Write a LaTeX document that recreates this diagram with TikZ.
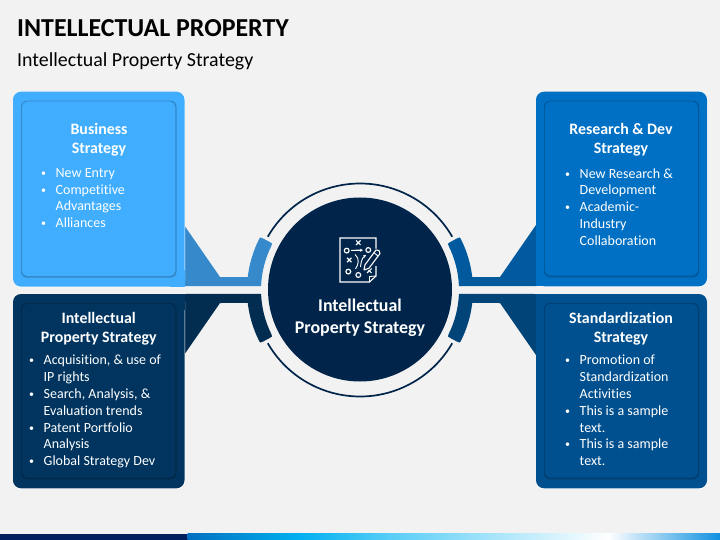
\documentclass[tikz,border=0pt]{standalone}
\usepackage{fontspec}
\usetikzlibrary{arrows.meta}
\setmainfont[Ligatures=NoCommon]{Carlito}
\definecolor{bgc}{HTML}{F2F2F2}
\definecolor{navy}{HTML}{01254A}
\definecolor{boxa}{HTML}{40ADFF}
\definecolor{boxb}{HTML}{01355F}
\definecolor{boxc}{HTML}{0070C4}
\definecolor{boxd}{HTML}{00508F}
\definecolor{cona}{HTML}{368ACB}
\definecolor{conb}{HTML}{022D50}
\definecolor{conc}{HTML}{015A9E}
\definecolor{cond}{HTML}{014478}
\definecolor{barnavy}{HTML}{001F5F}
\definecolor{bar0}{HTML}{0070C0}
\definecolor{bar1}{HTML}{00B0F0}
\definecolor{bar2}{HTML}{58CDF7}
\definecolor{bar3}{HTML}{FFFFFF}
\definecolor{bar4}{HTML}{0E90E0}
\pgfdeclarehorizontalshading{barshade}{100bp}{color(0bp)=(bar0); color(25bp)=(bar0); color(35.5bp)=(bar1); color(44bp)=(bar2); color(64.5bp)=(bar3); color(75bp)=(bar4); color(100bp)=(bar4)}
\tikzset{
  headtxt/.style={anchor=north,inner sep=0pt,align=center,text=white,font=\fontsize{15.9}{19.4}\selectfont\bfseries,execute at begin node=\strut},
  bodytxt/.style={anchor=north west,inner sep=0pt,align=left,text=white,font=\fontsize{14}{16.8}\selectfont,execute at begin node=\strut},
  iconline/.style={draw=white,line width=1.15pt,fill=none},
}
\newcommand{\itm}{\llap{\raisebox{1pt}{\fontsize{10}{10}\selectfont\textbullet}\hspace{9.5pt}}}
% inner x0,y0,x1,y1, colour, square corner point, opposite point of the patch
\newcommand{\panelbox}[7]{%
  \fill[white,rounded corners=8pt] ({#1-8},{#2-9+.6}) rectangle ({#3+8.7},{#4+9.7});
  \fill[#5,rounded corners=8pt] ({#1-8},{#2-9}) rectangle ({#3+8},{#4+9});
  \fill[#5] (#6) rectangle (#7);
  \fill[#5!78!black,rounded corners=6pt] (#1,#2) rectangle (#3,#4);
  \fill[#5,rounded corners=5.5pt] ({#1+.8},{#2+.8}) rectangle ({#3-1.2},{#4-1.6});
}
\newcommand{\connshape}[3]{%
  \begin{scope}[shift={(360,290)},x=1pt,y=1pt,xscale=#1,yscale=#2]
    \fill[#3] (-176,65) -- (-140,13) -- (173.4:113)
      arc[start angle=173.4,end angle=153.6,radius=113]
      .. controls (152:113) .. (152:110) -- (152:102)
      .. controls (152:99) .. (153.7:99)
      arc[start angle=153.7,end angle=177.7,radius=99]
      -- (-176,4) -- cycle;
  \end{scope}
}
\begin{document}
\begin{tikzpicture}[x=1pt,y=-1pt]
\useasboundingbox (0,0) rectangle (720,540);
\fill[bgc] (0,0) rectangle (720,540);
% bottom bar
\fill[barnavy] (0,533.5) rectangle (187.5,540);
\shade[shading=barshade] (187.5,533.5) rectangle (720,540);
% title
\node[anchor=base west,inner sep=0pt,font=\fontsize{25.9}{30}\selectfont\bfseries] (title) at (17,36.5) {INTELLECTUAL PROPERTY};
\node[anchor=base west,inner sep=0pt,font=\fontsize{19.9}{24}\selectfont] (subtitle) at (17,66.2) {Intellectual Property Strategy};
% connectors
\connshape{1}{1}{cona}
\connshape{1}{-1}{conb}
\connshape{-1}{1}{conc}
\connshape{-1}{-1}{cond}
% panels
\panelbox{21}{100.7}{176.5}{277.7}{boxa}{184.5,286.7}{170,270}
\panelbox{21}{303}{176.5}{479.3}{boxb}{184.5,294}{170,310}
\panelbox{544}{100.7}{699}{277.3}{boxc}{535.7,286.3}{550,270}
\panelbox{544}{303}{699}{479.3}{boxd}{535.7,294}{550,310}
% ring and hub
\draw[navy,line width=1.7pt] (360,290) ++(150:106.5) arc[start angle=150,end angle=30,radius=106.5];
\draw[navy,line width=1.7pt] (360,290) ++(-150:106.5) arc[start angle=-150,end angle=-30,radius=106.5];
\node[circle,fill=navy,minimum size=184pt,inner sep=0pt] (hub) at (360,289.5) {};
% icon
\draw[iconline,line join=miter] (376,250) -- (376,238) -- (340,238) -- (340,282) -- (369.5,282) -- (376,276) -- (376,266);
\draw[iconline,line width=.9pt] (369.5,282) -- (369.5,276.5) -- (376,276);
\foreach \nm/\cx/\cy in {ca/346.7/250.6,cb/368.3/250,cc/348.3/271.6,cd/358.3/275}{
  \draw[iconline] (\cx,\cy) circle[radius=2.4];
}
\foreach \cx/\cy in {358.3/242.7,349.3/260,369.3/270.7}{
  \draw[iconline] (\cx-2.2,\cy-2.2) -- (\cx+2.2,\cy+2.2) (\cx-2.2,\cy+2.2) -- (\cx+2.2,\cy-2.2);
}
\draw[iconline,-{Stealth[length=3pt,width=3pt]}] (351,250.4) -- (363,250.2);
\draw[iconline,line width=.9pt] (355.5,269) .. controls (358.5,264) and (360,259) .. (355,254.5);
\draw[iconline,line width=.9pt,-{Stealth[length=3pt,width=3pt]}] (360.5,267) .. controls (361,262) and (362,258) .. (366,255);
\draw[navy,line width=3pt,fill=navy,line join=round] (364,270) -- (369,268.2) -- (380,253.5) -- (376,250) -- (365,264.8) -- cycle;
\draw[white,line width=1.1pt,line join=round] (364,270) -- (369,268.2) -- (380,253.5) .. controls (380.5,251) and (378,249) .. (376,250) -- (365,264.8) -- cycle;
\draw[white,line width=.9pt] (373.8,252.5) -- (378,256);
% texts
\node[font=\fontsize{17.9}{22}\selectfont\bfseries,text=white,align=center,inner sep=0pt,anchor=north,execute at begin node=\strut] (hubtext) at (360,298.8) {Intellectual\\Property Strategy};
\node[headtxt] (h1) at (99,122.8) {Business\\Strategy};
\node[bodytxt] (b1) at (55.5,168.2) {\itm New Entry\\\itm Competitive\\Advantages\\\itm Alliances};
\node[headtxt] (h2) at (98.7,312.2) {Intellectual\\Property Strategy};
\node[bodytxt] (b2) at (43.5,355) {\itm Acquisition, \& use of\\IP rights\\\itm Search, Analysis, \&\\Evaluation trends\\\itm Patent Portfolio\\Analysis\\\itm Global Strategy Dev};
\node[headtxt] (h3) at (621,122.8) {Research \& Dev\\Strategy};
\node[bodytxt] (b3) at (579.5,168.2) {\itm New Research \&\\Development\\\itm Academic-\\Industry\\Collaboration};
\node[headtxt] (h4) at (621,312.2) {Standardization\\Strategy};
\node[bodytxt] (b4) at (579.5,355) {\itm Promotion of\\Standardization\\Activities\\\itm This is a sample\\text.\\\itm This is a sample\\text.};
\end{tikzpicture}
\end{document}
